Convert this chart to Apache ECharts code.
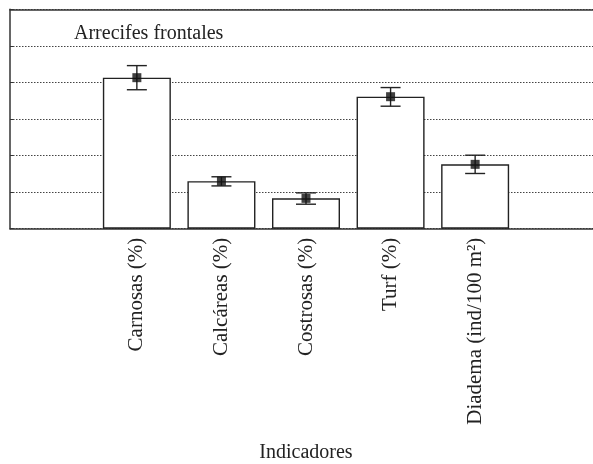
<!DOCTYPE html>
<html>
<head>
<meta charset="utf-8">
<script src="https://cdn.jsdelivr.net/npm/echarts@6/dist/echarts.min.js"></script>
<style>
  html, body { margin: 0; padding: 0; background: #fff; }
  #chart { width: 593px; height: 464px; }
</style>
</head>
<body>
<div id="chart"></div>
<script>
  // categorias (las de los extremos quedan vacías, como en la figura)
  const categories = ['', 'Carnosas (%)', 'Calcáreas (%)', 'Costrosas (%)', 'Turf (%)', 'Diadema (ind/100 m²)', ''];
  const means = ['-', 4.13, 1.30, 0.83, 3.61, 1.76, '-'];
  const errLow = ['-', 3.80, 1.17, 0.67, 3.35, 1.51, '-'];
  const errHigh = ['-', 4.46, 1.42, 0.98, 3.86, 2.01, '-'];

  const serif = 'Liberation Serif';
  const axisColor = '#333';

  const errData = categories.map((c, i) => [i, errLow[i], errHigh[i]]).filter(d => d[1] !== '-');

  const chart = echarts.init(document.getElementById('chart'));
  chart.setOption({
    animation: false,
    title: {
      text: 'Arrecifes frontales',
      left: 69,
      top: 19,
      textStyle: { fontFamily: serif, fontSize: 20, fontWeight: 'normal', color: '#222' }
    },
    grid: { left: 10, top: 9.3, width: 592, height: 219.4, outerBoundsMode: 'none' },
    xAxis: [
      {
        type: 'category',
        data: categories,
        name: 'Indicadores',
        nameLocation: 'middle',
        nameGap: 214,
        nameTextStyle: { fontFamily: serif, fontSize: 20, color: '#222' },
        axisLine: { lineStyle: { color: axisColor, width: 1.5 } },
        axisTick: { alignWithLabel: true, inside: true, length: 3, lineStyle: { color: axisColor } },
        axisLabel: { interval: 0, rotate: 90, margin: 9, fontFamily: serif, fontSize: 21, color: '#222' }
      },
      {
        type: 'category',
        position: 'top',
        data: categories,
        axisLine: { lineStyle: { color: axisColor, width: 1.5 } },
        axisTick: { alignWithLabel: true, inside: true, length: 3, lineStyle: { color: axisColor } },
        axisLabel: { show: false }
      }
    ],
    yAxis: {
      type: 'value',
      min: 0,
      max: 6,
      interval: 1,
      axisLine: { show: true, lineStyle: { color: axisColor, width: 1.5 } },
      axisTick: { show: true, inside: true, length: 3, lineStyle: { color: axisColor } },
      axisLabel: { show: false },
      splitLine: { lineStyle: { type: [1.5, 1.5], color: '#444', width: 1 } }
    },
    series: [
      {
        type: 'bar',
        data: means,
        barWidth: 68,
        itemStyle: { color: '#fff', borderColor: '#222', borderWidth: 1.4 }
      },
      {
        type: 'custom',
        data: errData,
        z: 5,
        renderItem: function (params, api) {
          const x = api.value(0);
          const lo = api.coord([x, api.value(1)]);
          const hi = api.coord([x, api.value(2)]);
          const half = 10;
          const style = { stroke: '#222', lineWidth: 1.4 };
          return {
            type: 'group',
            children: [
              { type: 'line', shape: { x1: lo[0], y1: lo[1], x2: hi[0], y2: hi[1] }, style: style },
              { type: 'line', shape: { x1: lo[0] - half, y1: lo[1], x2: lo[0] + half, y2: lo[1] }, style: style },
              { type: 'line', shape: { x1: hi[0] - half, y1: hi[1], x2: hi[0] + half, y2: hi[1] }, style: style }
            ]
          };
        }
      },
      {
        type: 'scatter',
        data: means,
        symbol: 'rect',
        symbolSize: 9,
        z: 6,
        itemStyle: { color: '#111' }
      }
    ]
  });
</script>
</body>
</html>
